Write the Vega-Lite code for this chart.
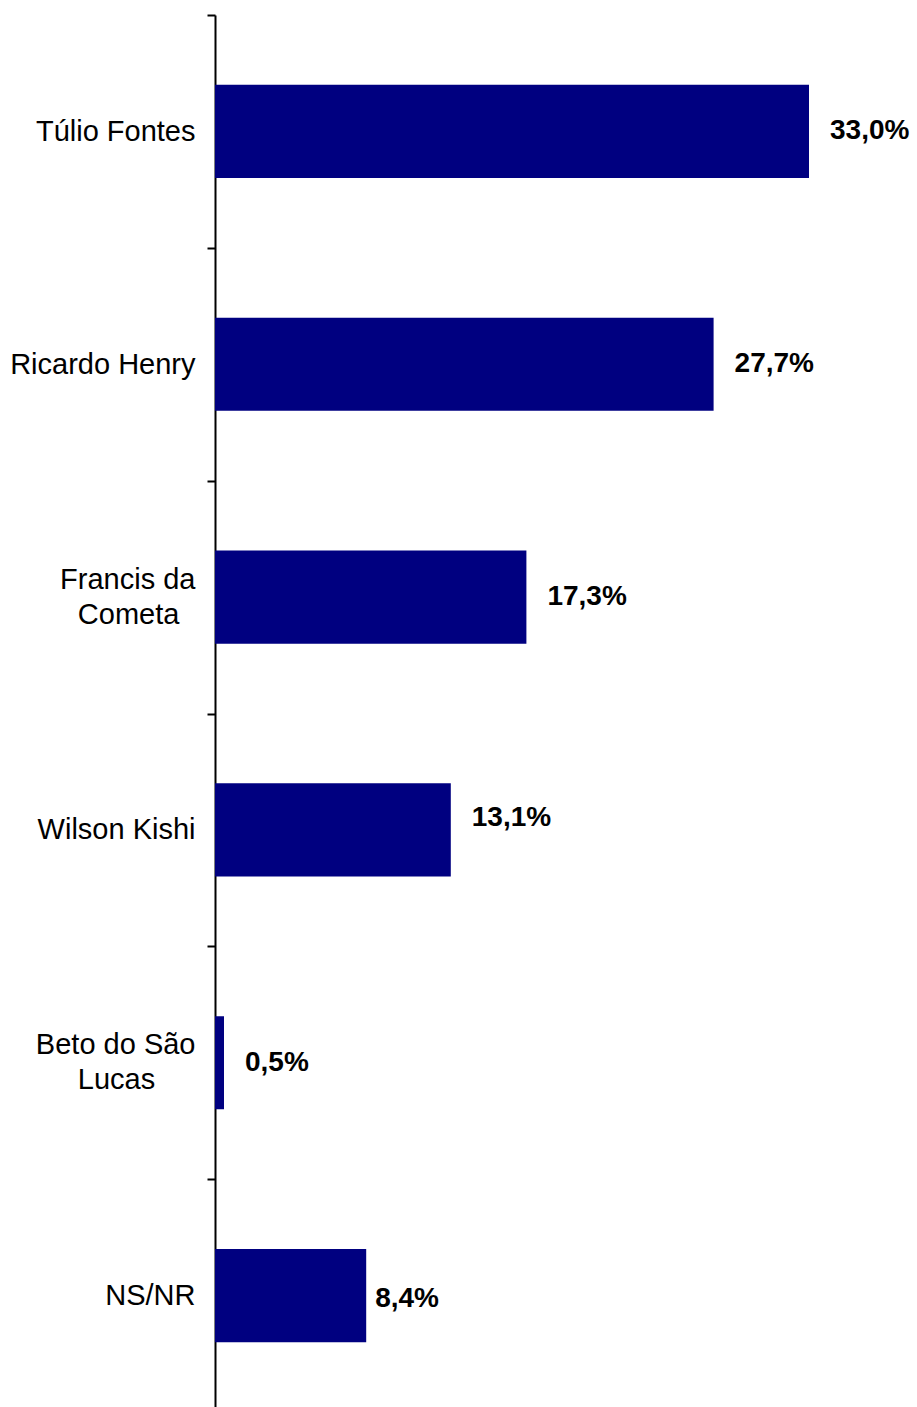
{
  "$schema": "https://vega.github.io/schema/vega-lite/v6.json",
  "autosize": "none",
  "padding": {"left": 215, "top": 15, "right": 0, "bottom": 0},
  "width": 702,
  "height": 1397,
  "background": "white",
  "config": {"view": {"stroke": null}, "font": "Liberation Sans"},
  "data": {"values": [
    {"name": "Túlio Fontes", "value": 33.0, "label": "33,0%"},
    {"name": "Ricardo Henry", "value": 27.7, "label": "27,7%"},
    {"name": "Francis da Cometa", "value": 17.3, "label": "17,3%"},
    {"name": "Wilson Kishi", "value": 13.1, "label": "13,1%"},
    {"name": "Beto do São Lucas", "value": 0.5, "label": "0,5%"},
    {"name": "NS/NR", "value": 8.4, "label": "8,4%"}
  ]},
  "encoding": {
    "y": {
      "field": "name", "type": "nominal", "sort": null,
      "scale": {"paddingInner": 0, "paddingOuter": 0},
      "axis": {
        "title": null,
        "tickBand": "extent",
        "domainColor": "black", "domainWidth": 2,
        "tickColor": "black", "tickWidth": 2, "tickSize": 8,
        "labelFont": "Liberation Sans", "labelFontSize": 29, "labelColor": "black",
        "labelPadding": 12, "labelLineHeight": 35, "labelLimit": 300,
        "labelExpr": "datum.value == 'Francis da Cometa' ? ['Francis da', 'Cometa\u00a0\u00a0\u200b'] : datum.value == 'Beto do São Lucas' ? ['Beto do São', 'Lucas\u00a0\u00a0\u00a0\u00a0\u00a0\u200b'] : datum.value",
        "labelOffset": {"condition": {"test": "datum.value == 'Francis da Cometa' || datum.value == 'Beto do São Lucas'", "value": -18}, "value": 0}
      }
    },
    "x": {
      "field": "value", "type": "quantitative",
      "scale": {"domain": [0, 39], "nice": false, "zero": true},
      "axis": null
    }
  },
  "layer": [
    {"mark": {"type": "bar", "color": "#000080", "height": {"band": 0.4}}},
    {"mark": {"type": "text", "align": "left", "baseline": "middle",
              "dx": {"expr": "datum.name == 'NS/NR' ? 9 : 21"},
              "dy": {"expr": "datum.name == 'Wilson Kishi' ? -12 : datum.name == 'NS/NR' ? 3 : 0"},
              "font": "Liberation Sans", "fontSize": 28, "fontWeight": "bold", "color": "black"},
     "encoding": {"text": {"field": "label"}}}
  ]
}
